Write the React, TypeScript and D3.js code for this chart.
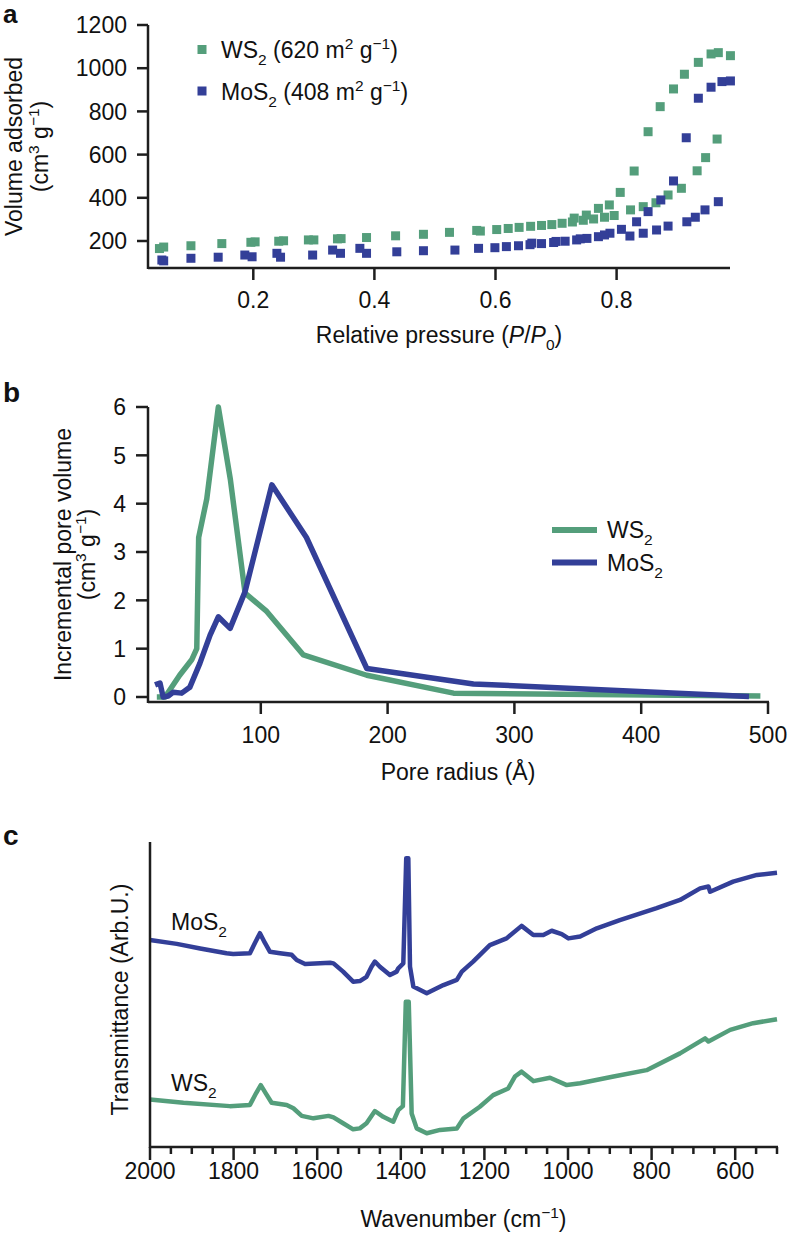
import React from "react";
import * as d3 from "d3";

// ---------- Panel a: N2 isotherms (P/P0, volume) ----------
const isoWS2: [number, number][] = [
  [0.045, 165], [0.052, 172], [0.097, 178], [0.148, 188], [0.196, 194], [0.203, 196],
  [0.242, 199], [0.25, 201], [0.291, 205], [0.3, 205], [0.339, 210], [0.345, 211],
  [0.387, 216], [0.435, 224], [0.481, 231], [0.524, 240], [0.569, 249], [0.575, 246],
  [0.602, 253], [0.621, 258], [0.639, 263], [0.658, 268], [0.676, 272], [0.693, 276],
  [0.71, 282], [0.727, 288], [0.745, 296], [0.762, 302], [0.78, 310], [0.796, 318],
  [0.823, 344], [0.844, 359], [0.865, 377], [0.885, 413], [0.907, 444], [0.933, 525],
  [0.947, 586], [0.966, 672],
  [0.73, 306], [0.75, 320], [0.77, 351], [0.788, 367], [0.806, 425], [0.829, 524],
  [0.852, 706], [0.872, 822], [0.894, 904], [0.912, 972], [0.935, 1027], [0.956, 1066],
  [0.968, 1072], [0.988, 1058],
];
const isoMoS2: [number, number][] = [
  [0.049, 112], [0.052, 108], [0.097, 120], [0.142, 125], [0.186, 135], [0.198, 127],
  [0.239, 143], [0.245, 125], [0.298, 135], [0.331, 158], [0.344, 143], [0.376, 166],
  [0.387, 143], [0.437, 150], [0.481, 155], [0.533, 158], [0.572, 166], [0.599, 169],
  [0.618, 174], [0.638, 178], [0.657, 183], [0.676, 188], [0.696, 193], [0.715, 199],
  [0.734, 205], [0.751, 212], [0.77, 220], [0.789, 236], [0.808, 254], [0.822, 223],
  [0.833, 289], [0.844, 236], [0.852, 336], [0.866, 251], [0.873, 390], [0.885, 269],
  [0.894, 478], [0.916, 289], [0.915, 678], [0.93, 310], [0.935, 861], [0.946, 344],
  [0.956, 912], [0.968, 382], [0.974, 938], [0.988, 941], [0.66, 190], [0.7, 198],
  [0.74, 210], [0.78, 228],
];
const isoXTicks = [0.2, 0.4, 0.6, 0.8];
const isoYTicks = [200, 400, 600, 800, 1000, 1200];

// ---------- Panel b: pore size distribution (radius Å, volume) ----------
const psdWS2: [number, number][] = [
  [18, 0], [24.5, 0], [36, 0.45], [45.5, 0.77], [49.5, 1.0], [51, 3.3], [57.4, 4.1],
  [66.5, 6.0], [76, 4.5], [87.6, 2.15], [104.7, 1.77], [133.6, 0.87], [183.6, 0.45],
  [252, 0.08], [494, 0.02],
];
const psdMoS2: [number, number][] = [
  [16.6, 0.25], [20.5, 0.29], [23, 0.0], [27, 0.02], [31, 0.1], [37.6, 0.08], [44, 0.2],
  [52, 0.7], [60, 1.28], [66.5, 1.66], [75.8, 1.42], [87.6, 2.18], [108.7, 4.39],
  [136, 3.3], [183.6, 0.59], [267.7, 0.27], [485, 0.01],
];
const psdXTicks = [100, 200, 300, 400, 500];
const psdYTicks = [0, 1, 2, 3, 4, 5, 6];

// ---------- Panel c: IR spectra (wavenumber, arbitrary transmittance) ----------
const irMoS2: [number, number][] = [
  [2000, 67.9], [1936, 66.6], [1880, 65.1], [1817, 63.5], [1801, 63.3], [1761, 63.5],
  [1749, 66.9], [1737, 70.1], [1725, 66.9], [1713, 64.0], [1689, 63.5], [1661, 63.0],
  [1649, 61.3], [1629, 60.0], [1569, 60.4], [1561, 60.2], [1538, 57.5], [1514, 54.2],
  [1498, 54.4], [1482, 55.8], [1470, 59.1], [1462, 60.8], [1450, 59.1], [1426, 56.4],
  [1410, 57.5], [1406, 58.6], [1394, 60.2], [1387, 94.7], [1382, 94.7], [1378, 59.1],
  [1370, 52.6], [1338, 50.4], [1298, 53.1], [1266, 54.8], [1254, 57.5], [1227, 60.8],
  [1187, 66.2], [1147, 68.4], [1111, 72.5], [1083, 69.5], [1059, 69.5], [1039, 70.9],
  [1015, 69.8], [999, 68.4], [971, 69.0], [931, 71.7], [876, 74.4], [788, 78.3],
  [732, 81.0], [684, 84.8], [664, 85.4], [660, 83.7], [605, 87.0], [548, 89.2], [500, 89.9],
];
const irWS2: [number, number][] = [
  [2000, 15.6], [1920, 14.5], [1809, 13.4], [1761, 13.8], [1746, 17.7], [1735, 20.3],
  [1723, 17.6], [1709, 14.5], [1673, 13.8], [1657, 12.7], [1637, 10.2], [1609, 9.4],
  [1573, 10.2], [1561, 9.7], [1538, 7.8], [1514, 5.8], [1498, 6.1], [1482, 7.8],
  [1462, 11.8], [1442, 9.9], [1418, 8.3], [1406, 12.1], [1395, 13.4], [1388, 47.6],
  [1381, 47.6], [1374, 11.0], [1362, 6.1], [1338, 4.5], [1306, 5.6], [1266, 6.1],
  [1250, 9.4], [1211, 13.2], [1179, 17.0], [1143, 19.2], [1127, 23.1], [1111, 24.7],
  [1083, 21.6], [1043, 22.7], [1003, 20.3], [971, 20.9], [891, 23.1], [812, 25.2],
  [732, 30.7], [672, 35.6], [664, 34.6], [612, 38.4], [557, 40.6], [500, 41.9],
];
const irXTicks = [2000, 1800, 1600, 1400, 1200, 1000, 800, 600];
const irMinorTicks = d3.range(500, 2001, 50);

const GREEN = "#549e7b";
const BLUE = "#333f98";
const AXIS = "#1e1e1e";
const FONT = "'Liberation Sans', Arial, Helvetica, sans-serif";
const FS = 23;
const SFS = 15.5;

const Sub = ({ t }: { t: string }) => (
  <tspan baselineShift="-7" fontSize={SFS}>{t}</tspan>
);
const Sup = ({ t }: { t: string }) => (
  <tspan baselineShift="9" fontSize={SFS}>{t}</tspan>
);

export default function App() {
  // Panel a scales
  const xA = d3.scaleLinear().domain([0, 1]).range([132.2, 737.7]);
  const yA = d3.scaleLinear().domain([0, 1200]).range([284.2, 25]);
  const aX0 = 148, aY0 = 268;

  // Panel b scales
  const xB = d3.scaleLinear().domain([0, 500]).range([134, 768]);
  const yB = d3.scaleLinear().domain([0, 6]).range([697, 407]);
  const bX0 = 148, bY0 = 702;

  // Panel c scales
  const xC = d3.scaleLinear().domain([2000, 500]).range([150, 777]);
  const yC = d3.scaleLinear().domain([0, 100]).range([1147, 842]);

  const lineB = d3.line<[number, number]>().x(d => xB(d[0])).y(d => yB(d[1]));
  const lineC = d3.line<[number, number]>().x(d => xC(d[0])).y(d => yC(d[1]));

  const sq = 9;

  return (
    <svg width={788} height={1235} style={{ position: "absolute", left: 0, top: 0 }}
      fontFamily={FONT} fontSize={FS} fill="#111">
      <rect x={0} y={0} width={788} height={1235} fill="#fff" />

      {/* ---------------- Panel a ---------------- */}
      <text x={3} y={23} fontSize={26} fontWeight="bold">a</text>
      {isoWS2.map((d, i) => (
        <rect key={"gw" + i} x={xA(d[0]) - sq / 2} y={yA(d[1]) - sq / 2} width={sq} height={sq} fill={GREEN} />
      ))}
      {isoMoS2.map((d, i) => (
        <rect key={"bm" + i} x={xA(d[0]) - sq / 2} y={yA(d[1]) - sq / 2} width={sq} height={sq} fill={BLUE} />
      ))}
      <line x1={aX0} x2={aX0} y1={yA(1200)} y2={aY0 + 1} stroke={AXIS} strokeWidth={2.5} />
      <line x1={aX0} x2={730} y1={aY0} y2={aY0} stroke={AXIS} strokeWidth={2.5} />
      {isoYTicks.map(t => (
        <g key={"ay" + t}>
          <line x1={aX0 - 11} x2={aX0} y1={yA(t)} y2={yA(t)} stroke={AXIS} strokeWidth={2.5} />
          <text x={127} y={yA(t)} dy="0.36em" textAnchor="end">{t}</text>
        </g>
      ))}
      {isoXTicks.map(t => (
        <g key={"ax" + t}>
          <line x1={xA(t)} x2={xA(t)} y1={aY0} y2={aY0 + 12} stroke={AXIS} strokeWidth={2.5} />
          <text x={xA(t)} y={308} textAnchor="middle">{t.toFixed(1)}</text>
        </g>
      ))}
      <text x={(aX0 + 730) / 2} y={343} textAnchor="middle">
        Relative pressure (<tspan fontStyle="italic">P</tspan>/<tspan fontStyle="italic">P</tspan><Sub t="0" />)
      </text>
      <text transform={`translate(22,${(25 + 268) / 2}) rotate(-90)`} textAnchor="middle">Volume adsorbed</text>
      <text transform={`translate(48,${(25 + 268) / 2}) rotate(-90)`} textAnchor="middle">
        (cm<Sup t="3" /> g<Sup t="−1" />)
      </text>
      {/* legend a */}
      <rect x={202 - sq / 2} y={49.5 - sq / 2} width={sq} height={sq} fill={GREEN} />
      <text x={221} y={58}>WS<Sub t="2" /> (620 m<Sup t="2" /> g<Sup t="−1" />)</text>
      <rect x={202 - sq / 2} y={91 - sq / 2} width={sq} height={sq} fill={BLUE} />
      <text x={221} y={99.5}>MoS<Sub t="2" /> (408 m<Sup t="2" /> g<Sup t="−1" />)</text>

      {/* ---------------- Panel b ---------------- */}
      <text x={3} y={402} fontSize={28} fontWeight="bold">b</text>
      <path d={lineB(psdWS2) || ""} fill="none" stroke={GREEN} strokeWidth={5.5} strokeLinejoin="round" />
      <path d={lineB(psdMoS2) || ""} fill="none" stroke={BLUE} strokeWidth={5.5} strokeLinejoin="round" />
      <line x1={bX0} x2={bX0} y1={yB(6)} y2={bY0 + 1} stroke={AXIS} strokeWidth={2.5} />
      <line x1={bX0} x2={xB(500) + 1} y1={bY0} y2={bY0} stroke={AXIS} strokeWidth={2.5} />
      {psdYTicks.map(t => (
        <g key={"by" + t}>
          <line x1={bX0 - 12} x2={bX0} y1={yB(t)} y2={yB(t)} stroke={AXIS} strokeWidth={2.5} />
          <text x={126} y={yB(t)} dy="0.36em" textAnchor="end">{t}</text>
        </g>
      ))}
      {psdXTicks.map(t => (
        <g key={"bx" + t}>
          <line x1={xB(t)} x2={xB(t)} y1={bY0} y2={bY0 + 12} stroke={AXIS} strokeWidth={2.5} />
          <text x={xB(t)} y={743} textAnchor="middle">{t}</text>
        </g>
      ))}
      <text x={(bX0 + 768) / 2} y={780} textAnchor="middle">Pore radius (Å)</text>
      <text transform={`translate(71,${(407 + 702) / 2}) rotate(-90)`} textAnchor="middle">Incremental pore volume</text>
      <text transform={`translate(95,${(407 + 702) / 2}) rotate(-90)`} textAnchor="middle">
        (cm<Sup t="3" /> g<Sup t="−1" />)
      </text>
      {/* legend b */}
      <line x1={552} x2={597} y1={530} y2={530} stroke={GREEN} strokeWidth={6} />
      <text x={607} y={538}>WS<Sub t="2" /></text>
      <line x1={552} x2={597} y1={562.5} y2={562.5} stroke={BLUE} strokeWidth={6} />
      <text x={607} y={571}>MoS<Sub t="2" /></text>

      {/* ---------------- Panel c ---------------- */}
      <text x={3} y={845} fontSize={28} fontWeight="bold">c</text>
      <path d={lineC(irMoS2) || ""} fill="none" stroke={BLUE} strokeWidth={4.5} strokeLinejoin="round" />
      <path d={lineC(irWS2) || ""} fill="none" stroke={GREEN} strokeWidth={4.5} strokeLinejoin="round" />
      <line x1={150} x2={150} y1={842} y2={1148} stroke={AXIS} strokeWidth={2.5} />
      <line x1={150} x2={xC(500) + 1} y1={1147} y2={1147} stroke={AXIS} strokeWidth={2.5} />
      {irMinorTicks.map(t => (
        <line key={"cm" + t} x1={xC(t)} x2={xC(t)} y1={1147} y2={1147 + (t % 200 === 0 ? 13 : 7)}
          stroke={AXIS} strokeWidth={2.5} />
      ))}
      {irXTicks.map(t => (
        <text key={"cx" + t} x={xC(t)} y={1179} textAnchor="middle">{t}</text>
      ))}
      <text x={(150 + 777) / 2} y={1227} textAnchor="middle">Wavenumber (cm<Sup t="−1" />)</text>
      <text transform={`translate(128,${(842 + 1147) / 2 + 5}) rotate(-90)`} textAnchor="middle">Transmittance (Arb.U.)</text>
      <text x={171} y={930}>MoS<Sub t="2" /></text>
      <text x={171} y={1091}>WS<Sub t="2" /></text>
    </svg>
  );
}
